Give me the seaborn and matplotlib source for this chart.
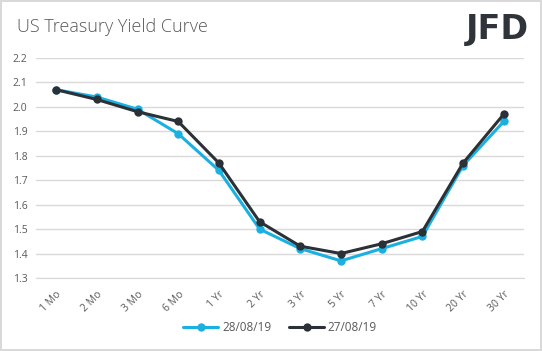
import pandas as pd
import numpy as np
import matplotlib
matplotlib.use('Agg')
import matplotlib.pyplot as plt
import seaborn as sns
from matplotlib.ticker import FixedLocator

tenors = ['1 Mo', '2 Mo', '3 Mo', '6 Mo', '1 Yr', '2 Yr', '3 Yr', '5 Yr', '7 Yr', '10 Yr', '20 Yr', '30 Yr']
yield_2808 = [2.07, 2.04, 1.99, 1.89, 1.74, 1.50, 1.42, 1.37, 1.42, 1.47, 1.76, 1.94]
yield_2708 = [2.07, 2.03, 1.98, 1.94, 1.77, 1.53, 1.43, 1.40, 1.44, 1.49, 1.77, 1.97]
series_names = ['28/08/19', '27/08/19']

df = pd.concat([
    pd.DataFrame({'tenor': tenors, 'yield': yield_2808, 'date': series_names[0]}),
    pd.DataFrame({'tenor': tenors, 'yield': yield_2708, 'date': series_names[1]}),
])

sns.set_style('white')
plt.rcParams['font.family'] = ['Open Sans', 'DejaVu Sans']

fig = plt.figure(figsize=(5.42, 3.51), dpi=100)
fig.patch.set_edgecolor('#d9d9d9')
fig.patch.set_linewidth(1.5)
ax = fig.add_axes([0.066, 0.208, 0.901, 0.627])

palette = {series_names[0]: '#1ab0e2', series_names[1]: '#2b3136'}
sns.lineplot(data=df, x='tenor', y='yield', hue='date', palette=palette, marker='o',
             markersize=6, linewidth=2.2, markeredgewidth=0, sort=False, ax=ax)

ax.set_xlim(-0.5, len(tenors) - 0.5)
ax.set_ylim(1.3, 2.2)
ax.set_yticks(np.arange(1.3, 2.21, 0.1))
ax.set_yticklabels(['%.1f' % v for v in np.arange(1.3, 2.21, 0.1)])
ax.yaxis.grid(True, color='#d9d9d9', linewidth=1)
ax.set_xlabel('')
ax.set_ylabel('')
for s in ['left', 'right', 'top']:
    ax.spines[s].set_visible(False)
ax.spines['bottom'].set_color('#d9d9d9')
ax.tick_params(axis='y', length=0, labelsize=7.5, labelcolor='#595959', pad=6)
ax.set_xticks(range(len(tenors)))
ax.set_xticklabels(tenors, rotation=45, ha='right', rotation_mode='anchor')
ax.tick_params(axis='x', which='major', length=0, labelsize=7.5, labelcolor='#595959', pad=8)
ax.xaxis.set_minor_locator(FixedLocator(np.arange(-0.5, len(tenors), 1)))
ax.tick_params(axis='x', which='minor', length=4, color='#d9d9d9')

ax.legend(loc='center', bbox_to_anchor=(0.5, -0.225), ncol=2, frameon=False,
          fontsize=8.5, handlelength=3, columnspacing=1.5, labelcolor='#595959',
          handletextpad=0.3)

fig.text(0.031, 0.922, 'US Treasury Yield Curve', fontsize=13, color='#595959', va='center',
         fontweight='light')
fig.text(0.975, 0.915, 'JFD', fontsize=24, fontweight='bold', color='#2f343a', ha='right', va='center',
         family=['DejaVu Sans'])

fig.savefig('out.png', dpi=100, edgecolor=fig.get_edgecolor())
